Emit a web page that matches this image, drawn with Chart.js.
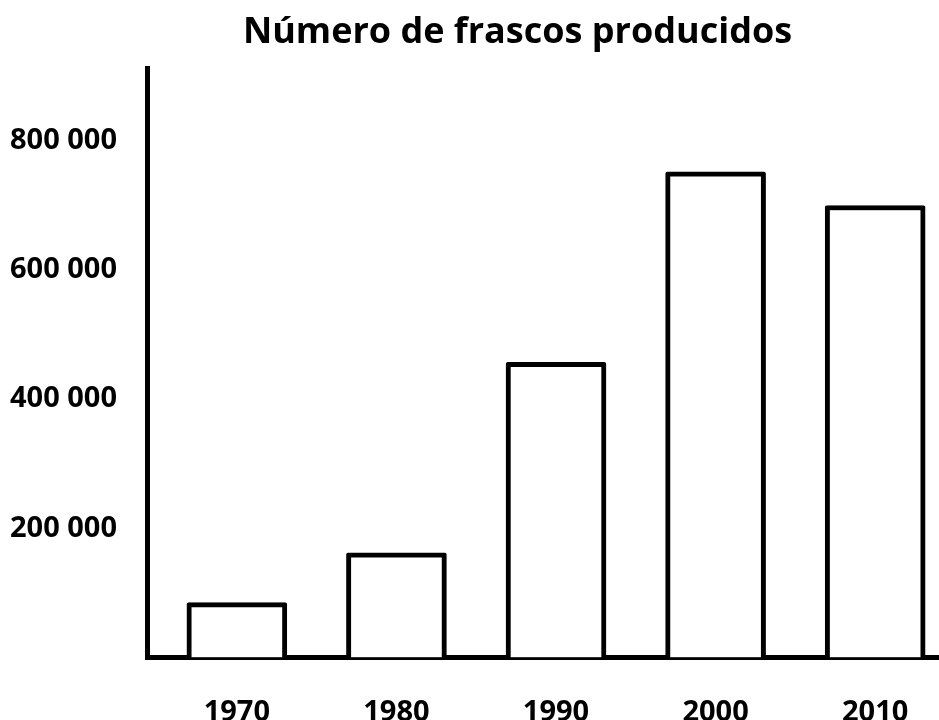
<!DOCTYPE html>
<html>
<head>
<meta charset="utf-8">
<script src="https://cdn.jsdelivr.net/npm/chart.js@4"></script>
<style>
    html, body { margin: 0; padding: 0; background: #fff; }
    canvas { display: block; }
</style>
</head>
<body>
<canvas id="chart" width="939" height="720"></canvas>
<script>
const years = ['1970', '1980', '1990', '2000', '2010'];
const jars = [85000, 162000, 457000, 752000, 700000];
const yTicks = [200000, 400000, 600000, 800000];
const titleText = 'Número de frascos producidos';

const fontFamily = '"Open Sans", "Noto Sans", sans-serif';

const withSpaces = (v) => String(v).replace(/\B(?=(\d{3})+(?!\d))/g, ' ');

// title in the original sits right of the canvas centre
const shiftTitle = {
    id: 'shiftTitle',
    afterLayout(chart) {
        const t = chart.titleBlock;
        if (t) {
            t.left = 96;
            t.right = chart.width;
        }
    }
};

document.addEventListener("DOMContentLoaded", () => {
    const ctx = document.getElementById('chart').getContext('2d');

    const data = {
        datasets: [
            {
                label: titleText,
                data: years.map((y, i) => ({ x: i, y: jars[i] })),
                backgroundColor: '#ffffff',
                borderColor: '#000000',
                borderWidth: 5,
                borderSkipped: 'start',
                borderRadius: 2,
                barThickness: 100
            }
        ]
    };

    const config = {
        type: 'bar',
        data: data,
        plugins: [shiftTitle],
        options: {
            animation: false,
            responsive: false,
            devicePixelRatio: 1,
            layout: { padding: 0 },
            plugins: {
                legend: { display: false },
                tooltip: { enabled: false },
                title: {
                    display: true,
                    text: titleText,
                    color: '#000',
                    font: { family: fontFamily, size: 36, weight: 'bold', lineHeight: 1.2 },
                    padding: { top: 11, bottom: 13.8 }
                }
            },
            scales: {
                x: {
                    type: 'linear',
                    offset: false,
                    min: -0.56,
                    max: 4.40,
                    grid: { display: false, drawTicks: false },
                    border: { display: true, color: '#000', width: 5 },
                    ticks: {
                        autoSkip: false,
                        maxRotation: 0,
                        padding: 38,
                        color: '#000',
                        font: { family: fontFamily, size: 29, weight: 'bold' },
                        callback: (v) => years[v] ?? ''
                    },
                    afterBuildTicks: (scale) => {
                        scale.ticks = years.map((y, i) => ({ value: i }));
                    },
                    afterFit: (scale) => {
                        scale.height = 62.5;
                        scale.paddingLeft = 0;
                        scale.paddingRight = 0;
                    }
                },
                y: {
                    min: 0,
                    max: 913000,
                    grid: { display: false, drawTicks: false },
                    border: { display: true, color: '#000', width: 5 },
                    ticks: {
                        padding: 30.5,
                        color: '#000',
                        font: { family: fontFamily, size: 29, weight: 'bold' },
                        callback: (v) => withSpaces(v)
                    },
                    afterBuildTicks: (scale) => {
                        scale.ticks = yTicks.map((v) => ({ value: v }));
                    },
                    afterFit: (scale) => {
                        scale.width = 147.5;
                        scale.paddingTop = 0;
                        scale.paddingBottom = 0;
                    }
                }
            }
        }
    };

    new Chart(ctx, config);
});
</script>
</body>
</html>
